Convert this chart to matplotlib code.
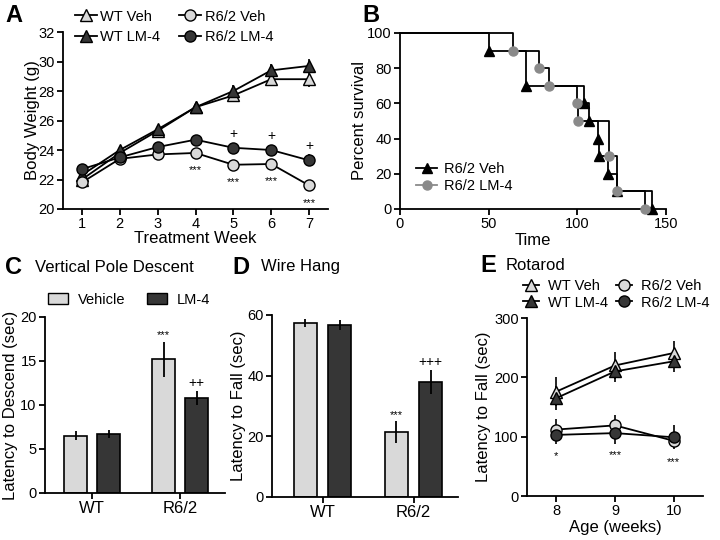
import matplotlib

matplotlib.use("Agg")
import matplotlib.pyplot as plt
from matplotlib.lines import Line2D
from matplotlib.patches import Patch

plt.rcParams["font.family"] = ["Liberation Sans", "DejaVu Sans"]
plt.rcParams["axes.linewidth"] = 1.3
plt.rcParams["xtick.major.width"] = 1.3
plt.rcParams["ytick.major.width"] = 1.3
plt.rcParams["xtick.major.size"] = 4
plt.rcParams["ytick.major.size"] = 4

LIGHT = "#d9d9d9"
DARK = "#363636"

# A: body weight
weeks = [1, 2, 3, 4, 5, 6, 7]
wt_veh = [22.0, 23.8, 25.3, 26.9, 27.7, 28.8, 28.8]
wt_veh_err = [0.4, 0.3, 0.3, 0.3, 0.4, 0.4, 0.5]
wt_lm4 = [22.3, 24.0, 25.4, 26.9, 28.0, 29.4, 29.7]
wt_lm4_err = [0.4, 0.3, 0.3, 0.3, 0.4, 0.4, 0.5]
r62_veh = [21.8, 23.4, 23.7, 23.8, 23.0, 23.05, 21.6]
r62_veh_err = [0.4, 0.3, 0.3, 0.3, 0.3, 0.3, 0.4]
r62_lm4 = [22.7, 23.5, 24.2, 24.7, 24.15, 24.0, 23.3]
r62_lm4_err = [0.3, 0.3, 0.3, 0.3, 0.3, 0.3, 0.4]
a_stars_weeks = [4, 5, 6, 7]
a_plus_weeks = [5, 6, 7]

# B: survival
veh_times = [0, 50, 71, 104, 106.5, 111.4, 112.4, 117.5, 122.2, 142.3]
veh_surv = [100, 90, 70, 60, 50, 40, 30, 20, 10, 0]
lm4_times = [0, 64, 78.6, 83.8, 99.6, 100.4, 117.7, 122.2, 138.3]
lm4_surv = [100, 90, 80, 70, 60, 50, 30, 10, 0]

# C, D: bars
groups = ["WT", "R6/2"]
pole_veh = [6.5, 15.2]
pole_veh_err = [0.5, 2.0]
pole_lm4 = [6.75, 10.8]
pole_lm4_err = [0.45, 0.8]
pole_marks = ["***", "++"]
hang_veh = [57.4, 21.3]
hang_veh_err = [1.4, 3.6]
hang_lm4 = [56.7, 38.0]
hang_lm4_err = [1.7, 3.9]
hang_marks = ["***", "+++"]

# E: rotarod
ages = [8, 9, 10]
rr_wt_veh = [176, 220, 241]
rr_wt_veh_err = [25, 22, 20]
rr_wt_lm4 = [165, 210, 227]
rr_wt_lm4_err = [20, 18, 18]
rr_r62_veh = [112, 119, 93]
rr_r62_veh_err = [17, 18, 12]
rr_r62_lm4 = [103, 106, 99]
rr_r62_lm4_err = [15, 18, 20]
rr_stars = ["*", "***", "***"]

fig = plt.figure(figsize=(7.2, 5.4), dpi=100)


def style(ax):
    ax.spines[["top", "right"]].set_visible(False)
    ax.tick_params(labelsize=10.5, direction="out", pad=2)


def group_lines(ax, x, series, ms=8):
    for vals, errs, marker, fc in series:
        ax.errorbar(x, vals, yerr=errs, fmt="-", marker=marker, color="black",
                    mfc=fc, mec="black", ms=ms, lw=1.3, elinewidth=1.2,
                    capsize=0, clip_on=False, zorder=3)


def four_legend(ax, anchor, spacing, colspace, hlen, tpad, ms=8):
    handles = [
        Line2D([], [], color="black", lw=1.3, marker="^", mfc=LIGHT, mec="black", ms=ms),
        Line2D([], [], color="black", lw=1.3, marker="^", mfc=DARK, mec="black", ms=ms),
        Line2D([], [], color="black", lw=1.3, marker="o", mfc=LIGHT, mec="black", ms=ms),
        Line2D([], [], color="black", lw=1.3, marker="o", mfc=DARK, mec="black", ms=ms),
    ]
    labels = ["WT Veh", "WT LM-4", "R6/2 Veh", "R6/2 LM-4"]
    ax.legend(handles, labels, ncol=2, loc="upper left", bbox_to_anchor=anchor,
              frameon=False, fontsize=10.5, handlelength=hlen, handletextpad=tpad,
              columnspacing=colspace, labelspacing=spacing, borderaxespad=0)


# ---- A ----
axA = fig.add_axes([63 / 720, 1 - 209 / 540, 265 / 720, 177 / 540])
style(axA)
group_lines(axA, weeks, [
    (wt_veh, wt_veh_err, "^", LIGHT),
    (wt_lm4, wt_lm4_err, "^", DARK),
    (r62_veh, r62_veh_err, "o", LIGHT),
    (r62_lm4, r62_lm4_err, "o", DARK),
])
axA.set_xlim(0.5, 7.5)
axA.set_ylim(20, 32)
axA.set_xticks(weeks)
axA.set_yticks(range(20, 33, 2))
axA.set_xlabel("Treatment Week", fontsize=12, labelpad=0)
axA.set_ylabel("Body Weight (g)", fontsize=12, labelpad=-1)
for w in a_stars_weeks:
    i = weeks.index(w)
    axA.annotate("***", (w, r62_veh[i]), xytext=(0, -9), textcoords="offset points",
                 ha="center", va="top", fontsize=8)
for w in a_plus_weeks:
    i = weeks.index(w)
    axA.annotate("+", (w, r62_lm4[i]), xytext=(0, 5), textcoords="offset points",
                 ha="center", va="bottom", fontsize=10)
four_legend(axA, (0.023, 1.16), 0.45, 1.3, 1.5, 0.25)

# ---- B ----
axB = fig.add_axes([400 / 720, 1 - 209 / 540, 266 / 720, 176 / 540])
style(axB)
axB.step(veh_times, veh_surv, where="post", color="black", lw=1.3, clip_on=False)
axB.step(lm4_times, lm4_surv, where="post", color="black", lw=1.3, clip_on=False)
axB.plot(veh_times[1:], veh_surv[1:], ls="none", marker="^", color="black", ms=6.5,
         clip_on=False, zorder=3)
axB.plot(lm4_times[1:], lm4_surv[1:], ls="none", marker="o", color="#8a8a8a", ms=6.5,
         clip_on=False, zorder=3)
axB.set_xlim(0, 150)
axB.set_ylim(0, 100)
axB.set_xticks([0, 50, 100, 150])
axB.set_yticks(range(0, 101, 20))
axB.set_xlabel("Time", fontsize=12, labelpad=1)
axB.set_ylabel("Percent survival", fontsize=12, labelpad=0)
hB = [Line2D([], [], color="black", lw=1.3, marker="^", ms=6.5),
      Line2D([], [], color="#8a8a8a", lw=1.3, marker="o", ms=6.5)]
axB.legend(hB, ["R6/2 Veh", "R6/2 LM-4"], loc="lower left", bbox_to_anchor=(0.04, 0.055),
           frameon=False, fontsize=10.5, handlelength=1.4, handletextpad=0.5,
           labelspacing=0.25, borderaxespad=0)


# ---- C, D ----
def bars(ax, veh, veh_err, lm4, lm4_err, marks, width, off):
    x = list(range(len(groups)))
    ax.bar([v - off for v in x], veh, width, yerr=veh_err, color=LIGHT,
           edgecolor="black", lw=1.2, error_kw={"elinewidth": 1.3, "capsize": 0})
    ax.bar([v + off for v in x], lm4, width, yerr=lm4_err, color=DARK,
           edgecolor="black", lw=1.2, error_kw={"elinewidth": 1.3, "capsize": 0})
    ax.annotate(marks[0], (1 - off, veh[1] + veh_err[1]), xytext=(0, 1),
                textcoords="offset points", ha="center", va="bottom", fontsize=8)
    ax.annotate(marks[1], (1 + off, lm4[1] + lm4_err[1]), xytext=(0, 1),
                textcoords="offset points", ha="center", va="bottom", fontsize=10)
    ax.set_xticks(x, groups)
    ax.tick_params(axis="x", labelsize=12)


axC = fig.add_axes([45 / 720, 1 - 493 / 540, 180 / 720, 176 / 540])
style(axC)
bars(axC, pole_veh, pole_veh_err, pole_lm4, pole_lm4_err, pole_marks, 0.26, 0.1875)
axC.set_xlim(-0.534, 1.51)
axC.set_ylim(0, 20)
axC.set_yticks(range(0, 21, 5))
axC.set_ylabel("Latency to Descend (sec)", fontsize=12, labelpad=2)
axC.legend([Patch(fc=LIGHT, ec="black", lw=1), Patch(fc=DARK, ec="black", lw=1)],
           ["Vehicle", "LM-4"], ncol=2, loc="upper left", bbox_to_anchor=(-0.017, 1.17),
           frameon=False, fontsize=10.5, handlelength=1.37, handleheight=0.75,
           handletextpad=0.7, columnspacing=1.45, borderaxespad=0)

axD = fig.add_axes([272 / 720, 1 - 497 / 540, 186 / 720, 182 / 540])
style(axD)
bars(axD, hang_veh, hang_veh_err, hang_lm4, hang_lm4_err, hang_marks, 0.253, 0.187)
axD.set_xlim(-0.555, 1.489)
axD.set_ylim(0, 60)
axD.set_yticks(range(0, 61, 20))
axD.set_ylabel("Latency to Fall (sec)", fontsize=12, labelpad=1)

# ---- E ----
axE = fig.add_axes([527 / 720, 1 - 496 / 540, 176 / 720, 178 / 540])
style(axE)
group_lines(axE, ages, [
    (rr_wt_veh, rr_wt_veh_err, "^", LIGHT),
    (rr_wt_lm4, rr_wt_lm4_err, "^", DARK),
    (rr_r62_veh, rr_r62_veh_err, "o", LIGHT),
    (rr_r62_lm4, rr_r62_lm4_err, "o", DARK),
])
axE.set_xlim(7.5, 10.5)
axE.set_ylim(0, 300)
axE.set_xticks(ages)
axE.set_yticks([0, 100, 200, 300])
axE.set_xlabel("Age (weeks)", fontsize=12, labelpad=1)
axE.set_ylabel("Latency to Fall (sec)", fontsize=12, labelpad=2)
for a, m in zip(ages, rr_stars):
    low = min(rr_r62_veh[ages.index(a)], rr_r62_lm4[ages.index(a)])
    axE.annotate(m, (a, low), xytext=(0, -12), textcoords="offset points",
                 ha="center", va="top", fontsize=8)
four_legend(axE, (-0.057, 1.25), 0.15, 0.5, 1.1, 0.65)

# panel letters and titles
for x, y, letter in [(5, 15, "A"), (362, 15, "B"), (5, 267, "C"), (232, 267, "D"), (480, 265, "E")]:
    fig.text(x / 720, 1 - y / 540, letter, fontsize=17, fontweight="bold", va="center")
for x, y, title in [(35, 267, "Vertical Pole Descent"), (261, 267, "Wire Hang"), (506, 265, "Rotarod")]:
    fig.text(x / 720, 1 - y / 540, title, fontsize=12, va="center")

fig.savefig("out.png", dpi=100)
